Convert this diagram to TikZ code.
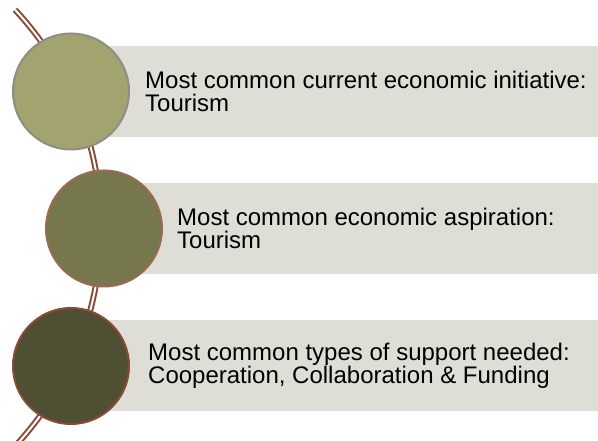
\documentclass[tikz,border=0pt]{standalone}
\usepackage{fontspec}
\setmainfont{Liberation Sans}
\definecolor{stem}{HTML}{8B4A36}
\definecolor{bandgray}{HTML}{DEDED7}
\definecolor{olivea}{HTML}{A3A36F}
\definecolor{oliveb}{HTML}{77774D}
\definecolor{olivec}{HTML}{4F4F33}
\definecolor{rima}{HTML}{8E8E84}
\definecolor{rimb}{HTML}{9A6A52}
\definecolor{rimc}{HTML}{8B4A36}
\begin{document}
\begin{tikzpicture}[x=1pt,y=1pt,
disc/.style={circle,minimum size=116pt,inner sep=0pt,line width=2pt},
band/.style={fill=bandgray,minimum height=91pt,inner sep=0pt,anchor=west},
caption/.style={anchor=west,align=left,inner sep=0pt,font=\fontsize{24}{23}\selectfont}]
\useasboundingbox (0,0) rectangle (598,441);
\coordinate (hub) at (-219,213);
\draw[stem,line width=2pt,double=white,double distance=2pt] ([shift={(-44:320)}]hub) arc (-44:43:320);
\foreach \n/\x/\y/\tx/\fc/\rc/\txt in {
1/71/349.5/145/olivea/rima/{Most common current economic initiative:\\Tourism},
2/104/212.5/177/oliveb/rimb/{Most common economic aspiration:\\Tourism},
3/71/75/148/olivec/rimc/{Most common types of support needed:\\Cooperation, Collaboration \& Funding}}
{
\node[band,minimum width={598-\x}] (band\n) at (\x,\y) {};
\node[disc,fill=\fc,draw=\rc] (disc\n) at (\x,\y) {};
\node[caption] (text\n) at (\tx,\y) {\txt};
}
\end{tikzpicture}
\end{document}
